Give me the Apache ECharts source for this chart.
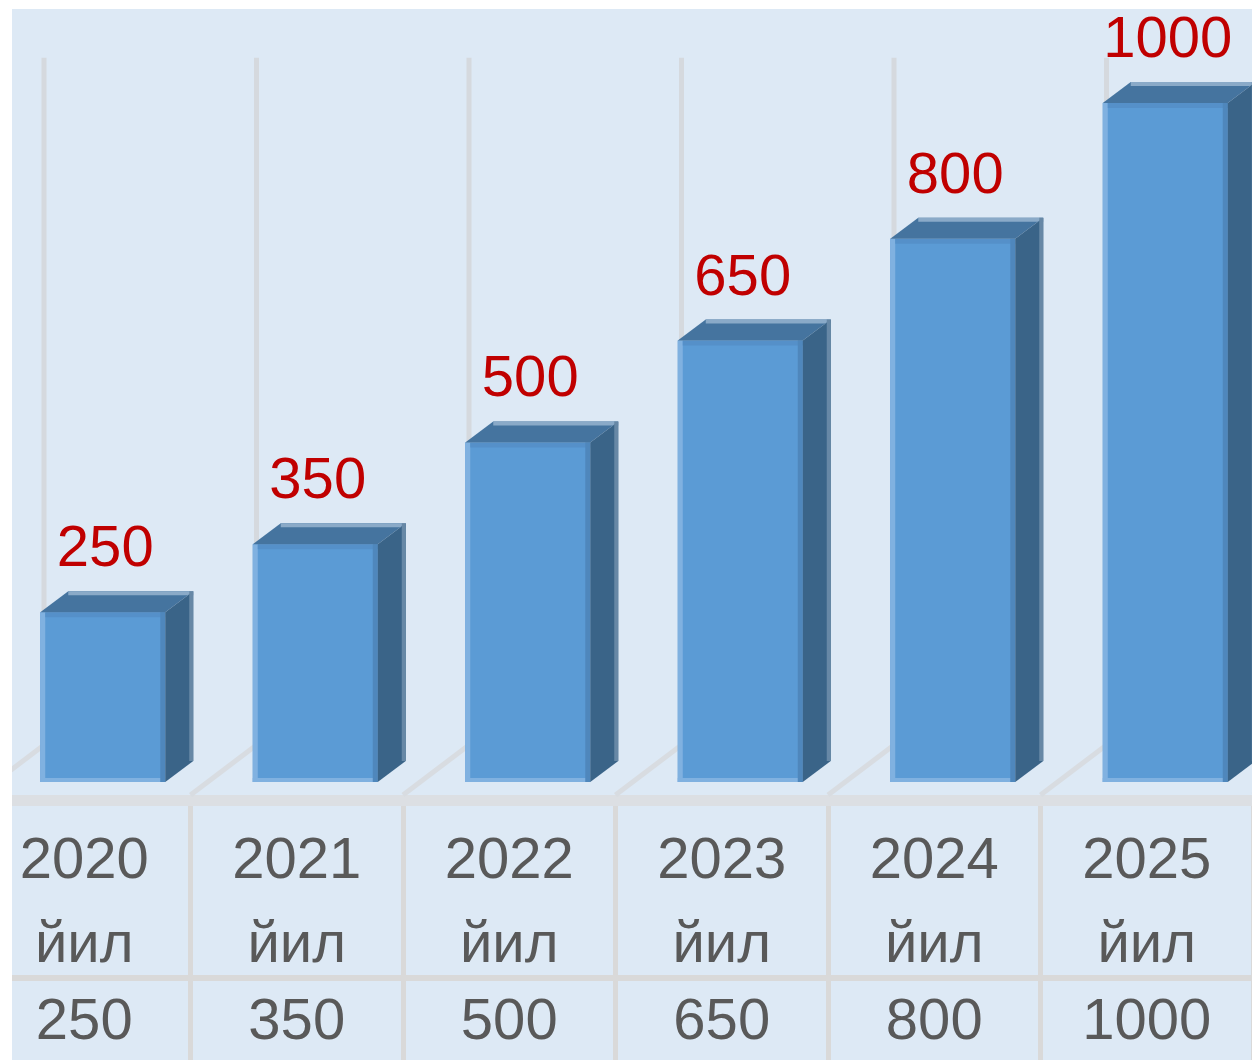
<!DOCTYPE html>
<html>
<head>
<meta charset="utf-8">
<script src="https://cdn.jsdelivr.net/npm/echarts@6/dist/echarts.min.js"></script>
<style>
  html, body { margin: 0; padding: 0; background: #fff; }
  #chart {
    width: 1252px; height: 1060px;
    background:
      linear-gradient(#fff, #fff) 0 0 / 12px 100% no-repeat,
      linear-gradient(#fff, #fff) 0 0 / 100% 9px no-repeat,
      #dde9f5;
  }
</style>
</head>
<body>
<div id="chart"></div>
<script>
// Yearly targets
const years = ['2020', '2021', '2022', '2023', '2024', '2025'];
const yearSuffix = 'йил';
const values = [250, 350, 500, 650, 800, 1000];

// Value at which the back-wall divider lines end
const WALL_TOP = 1012;
const FONT = '"Liberation Sans", Arial, sans-serif';

const chart = echarts.init(document.getElementById('chart'), null, { renderer: 'canvas' });

// Back wall and floor divider lines between categories
function renderWall(params, api) {
  const i = api.value(0);
  const base = api.coord([i, 0]);
  const top = api.coord([i, WALL_TOP]);
  const half = api.size([1, 0])[0] / 2;
  const bounds = [base[0] - half];
  if (i === years.length - 1) bounds.push(base[0] + half);
  const children = [];
  bounds.forEach(function (bx) {
    children.push({
      type: 'line',
      shape: { x1: bx, y1: base[1] + 13, x2: bx + 66, y2: base[1] - 37 },
      style: { stroke: '#d8dce1', lineWidth: 5 }
    });
    children.push({
      type: 'line',
      shape: { x1: bx + 66, y1: base[1] - 37, x2: bx + 66, y2: top[1] - 37 },
      style: { stroke: '#d5d9de', lineWidth: 5 }
    });
  });
  return { type: 'group', children: children };
}

// 3D-looking bar: front face, top face, side face and value label
function renderBar(params, api) {
  const i = api.value(0);
  const v = api.value(1);
  const topPt = api.coord([i, v]);
  const yBase = api.coord([i, 0])[1];
  const cx = topPt[0], yTop = topPt[1];
  const x0 = cx - 44, x1 = cx + 81;
  const dx = 28, dy = -21;
  return {
    type: 'group',
    children: [
      { type: 'rect', shape: { x: x0, y: yTop, width: x1 - x0, height: yBase - yTop },
        style: { fill: '#5b9bd5' } },
      { type: 'rect', shape: { x: x0, y: yTop, width: 5, height: yBase - yTop },
        style: { fill: '#80b1e0' } },
      { type: 'rect', shape: { x: x0, y: yBase - 4, width: x1 - x0, height: 4 },
        style: { fill: '#80b1e0' } },
      { type: 'rect', shape: { x: x0 + 5, y: yTop, width: x1 - x0 - 5, height: 5 },
        style: { fill: '#5590c9' } },
      { type: 'rect', shape: { x: x1 - 5, y: yTop, width: 5, height: yBase - yTop },
        style: { fill: '#4f87bc' } },
      { type: 'polygon',
        shape: { points: [[x0, yTop], [x1, yTop], [x1 + dx, yTop + dy], [x0 + dx, yTop + dy]] },
        style: { fill: '#45749f' } },
      { type: 'line',
        shape: { x1: x0 + dx, y1: yTop + dy + 2, x2: x1 + dx, y2: yTop + dy + 2 },
        style: { stroke: '#8aaac8', lineWidth: 4 } },
      { type: 'polygon',
        shape: { points: [[x1, yTop], [x1 + dx, yTop + dy], [x1 + dx, yBase + dy], [x1, yBase]] },
        style: { fill: '#3a6488' } },
      { type: 'line',
        shape: { x1: x1 + dx - 2, y1: yTop + dy, x2: x1 + dx - 2, y2: yBase + dy },
        style: { stroke: '#6788a6', lineWidth: 4 } },
      { type: 'text',
        style: {
          x: cx + 21, y: yTop - 62, text: String(v),
          fill: '#c00000', font: '58px ' + FONT,
          align: 'center', verticalAlign: 'middle'
        } }
    ]
  };
}

const option = {
  animation: false,
  // white page margin along the left and top edges
  graphic: [
    { type: 'rect', left: 0, top: 0, z: 100, shape: { width: 12, height: 1060 }, style: { fill: '#fff' } },
    { type: 'rect', left: 0, top: 0, z: 100, shape: { width: 1252, height: 9 }, style: { fill: '#fff' } }
  ],
  grid: [
    { left: -22, width: 1275, top: 35, bottom: 278, outerBoundsMode: 'none', containLabel: false },
    { left: -22, width: 1275, top: 800.5, height: 355, outerBoundsMode: 'none', containLabel: false }
  ],
  xAxis: [
    {
      gridIndex: 0,
      type: 'category',
      data: years,
      axisLine: { show: false },
      axisTick: { show: false },
      splitLine: { show: false },
      axisLabel: {
        interval: 0,
        margin: 38,
        formatter: function (val, idx) {
          return '{y|' + val + '}\n{y|' + yearSuffix + '}\n{v|' + values[idx] + '}';
        },
        rich: {
          y: { fontSize: 58, lineHeight: 84, color: '#595959', fontFamily: FONT },
          v: { fontSize: 58, lineHeight: 70, color: '#595959', fontFamily: FONT }
        }
      }
    },
    {
      gridIndex: 1,
      type: 'category',
      data: years,
      position: 'top',
      axisLine: { show: true, onZero: false, lineStyle: { color: '#dcdfe3', width: 11 } },
      axisTick: { show: false },
      axisLabel: { show: false },
      splitLine: { show: true, lineStyle: { color: '#d9d9d9', width: 5 } }
    }
  ],
  yAxis: [
    { gridIndex: 0, type: 'value', min: 0, max: 1100, show: false },
    {
      gridIndex: 1, type: 'value', min: 0, max: 2, interval: 1,
      axisLine: { show: false }, axisTick: { show: false }, axisLabel: { show: false },
      splitLine: {
        show: true, showMinLine: false, showMaxLine: false,
        lineStyle: { color: '#d9d9d9', width: 6 }
      }
    }
  ],
  series: [
    {
      type: 'custom',
      xAxisIndex: 0, yAxisIndex: 0,
      z: 1,
      renderItem: renderWall,
      data: years.map(function (y, i) { return [i, WALL_TOP]; })
    },
    {
      type: 'custom',
      xAxisIndex: 0, yAxisIndex: 0,
      z: 3,
      renderItem: renderBar,
      data: values.map(function (v, i) { return [i, v]; })
    }
  ]
};

chart.setOption(option);
</script>
</body>
</html>
